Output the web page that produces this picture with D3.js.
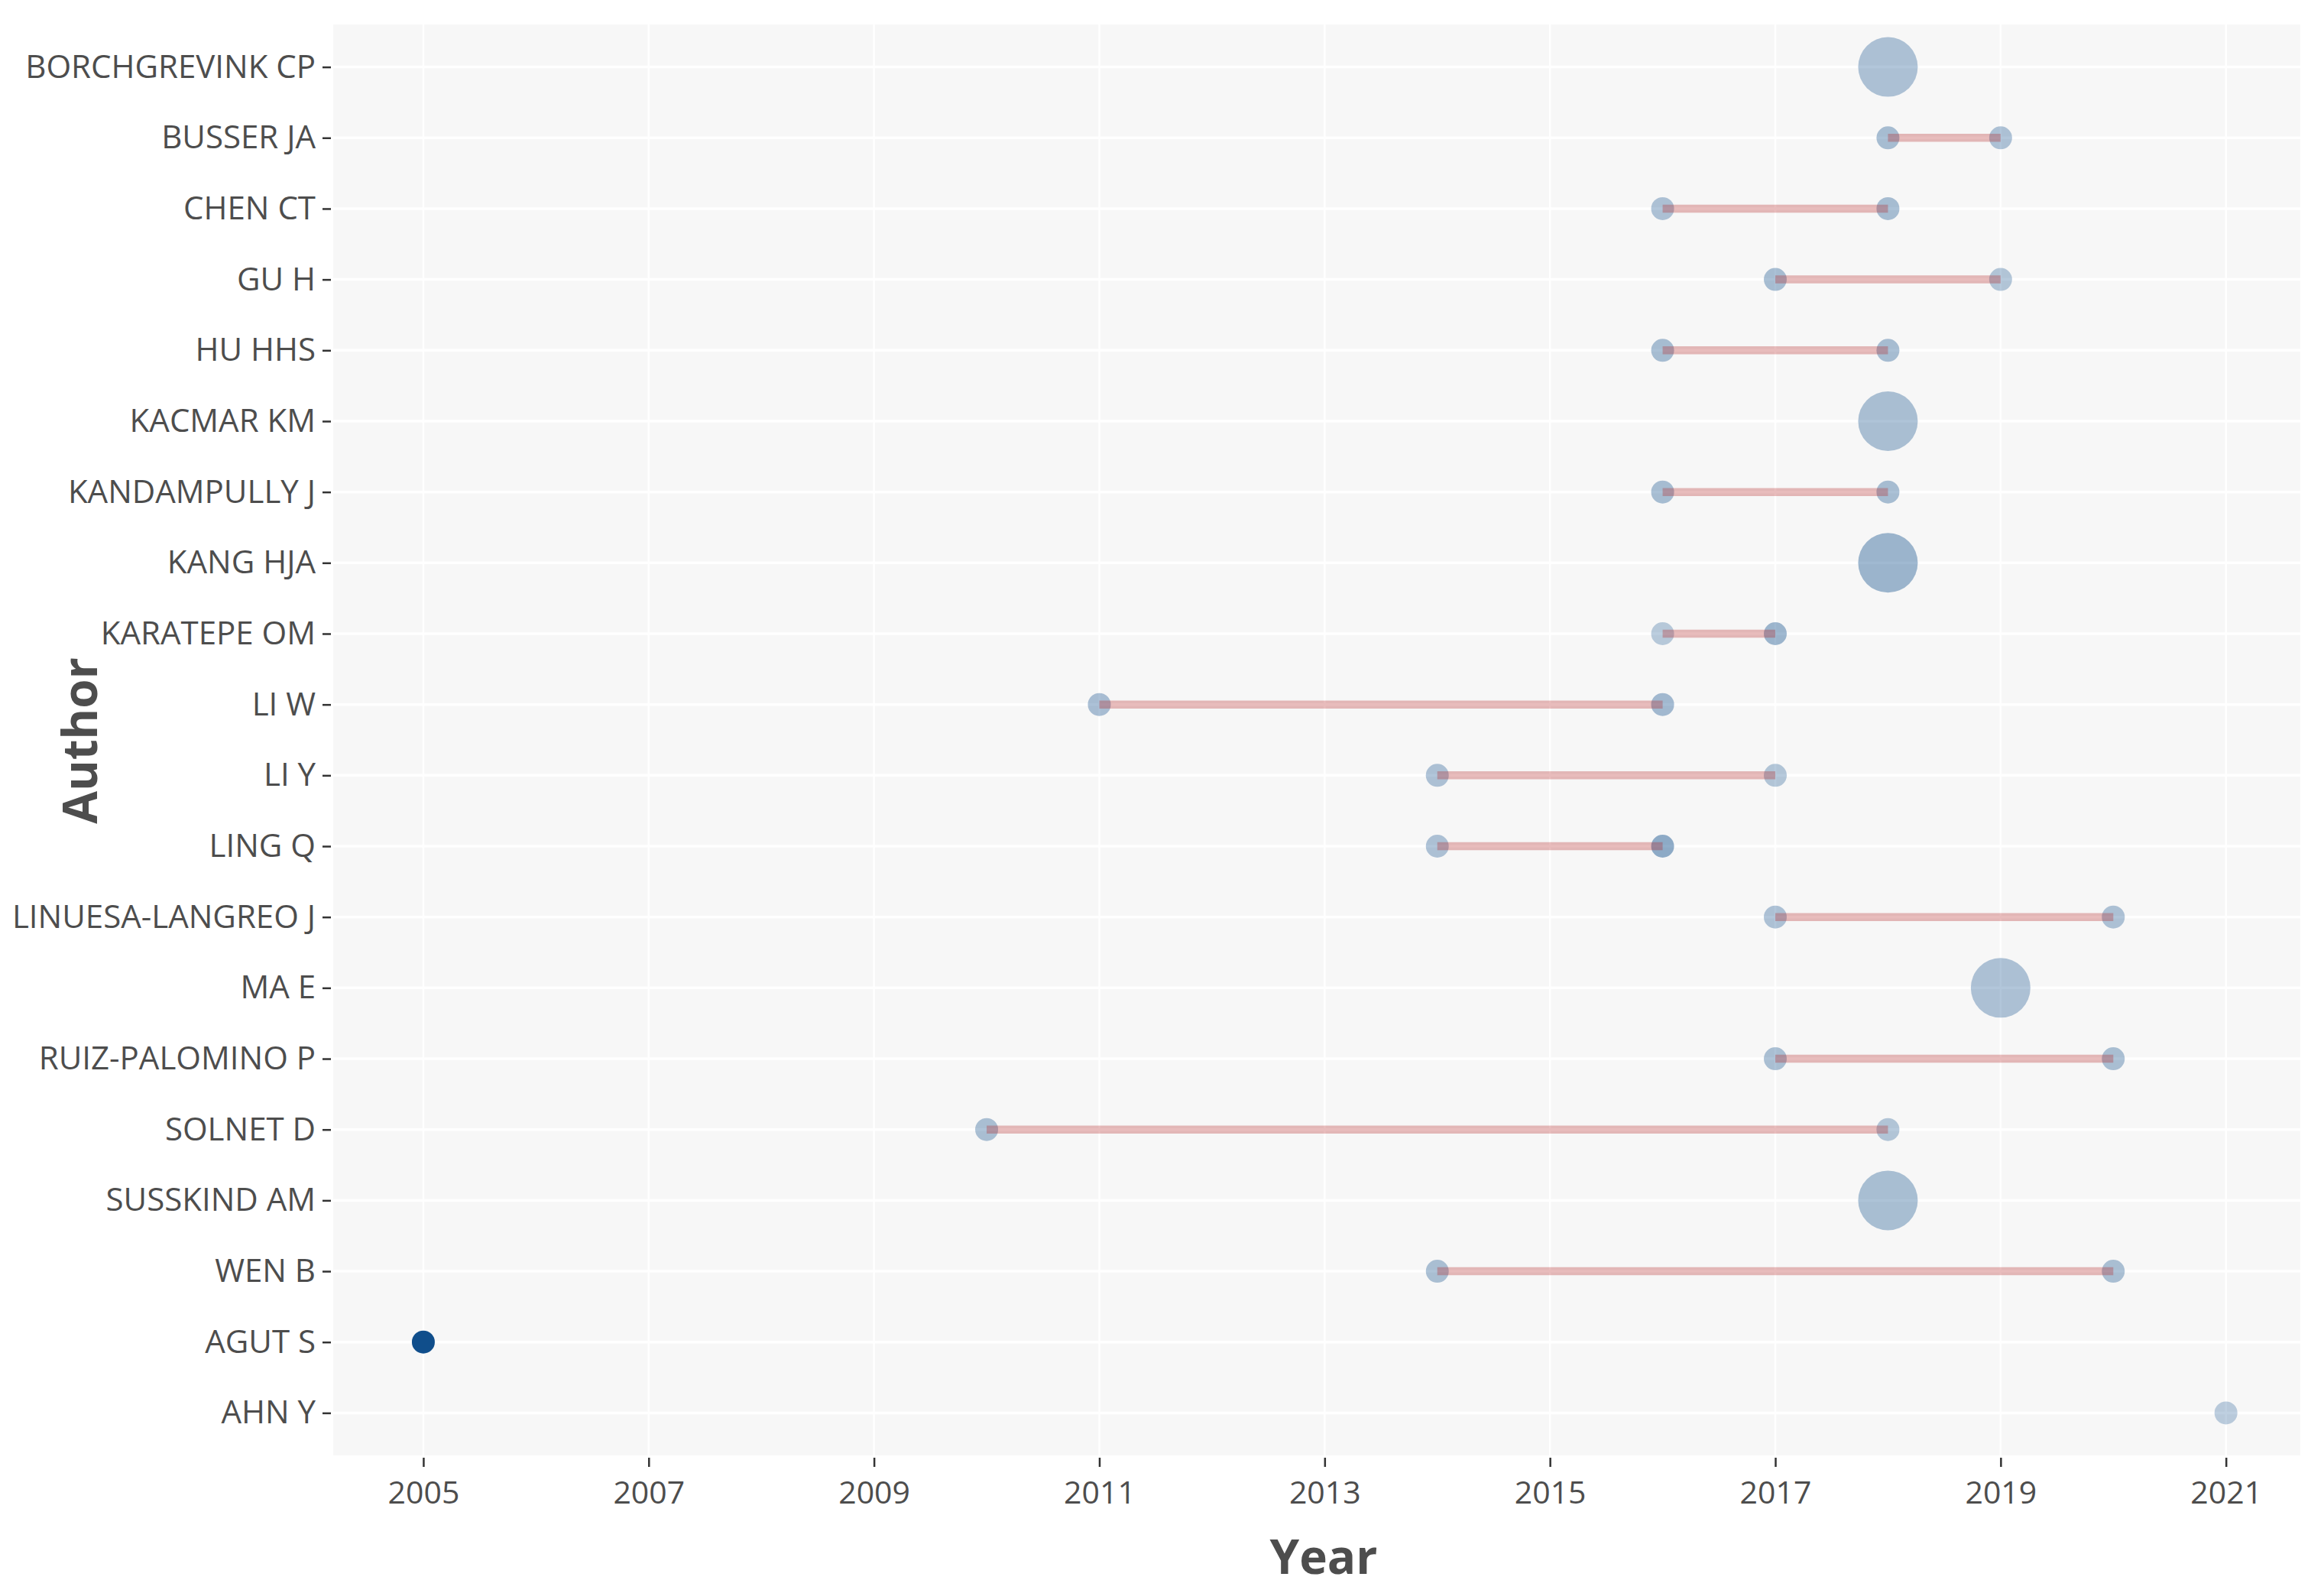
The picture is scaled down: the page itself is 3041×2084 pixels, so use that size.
<!DOCTYPE html>
<html>
<head>
<meta charset="utf-8">
<script src="https://cdn.jsdelivr.net/npm/d3@7"></script>
<style>
  html, body { margin: 0; padding: 0; background: #fff; }
  svg text { font-family: "Open Sans", "DejaVu Sans", Arial, sans-serif; }
</style>
</head>
<body>
<div class="chart"></div>
<script>
// authors, top to bottom
var authors = ["BORCHGREVINK CP", "BUSSER JA", "CHEN CT", "GU H", "HU HHS", "KACMAR KM",
  "KANDAMPULLY J", "KANG HJA", "KARATEPE OM", "LI W", "LI Y", "LING Q",
  "LINUESA-LANGREO J", "MA E", "RUIZ-PALOMINO P", "SOLNET D", "SUSSKIND AM",
  "WEN B", "AGUT S", "AHN Y"];

// publication years per author
var years = [[2018], [2018, 2019], [2016, 2018], [2017, 2019], [2016, 2018], [2018],
  [2016, 2018], [2018], [2016, 2017], [2011, 2016], [2014, 2017], [2014, 2016],
  [2017, 2020], [2019], [2017, 2020], [2010, 2018], [2018],
  [2014, 2020], [2005], [2021]];

// number of articles per author-year
var freq = [[2], [1, 1], [1, 1], [1, 1], [1, 1], [2],
  [1, 1], [2], [1, 1], [1, 1], [1, 1], [1, 1],
  [1, 1], [2], [1, 1], [1, 1], [2],
  [1, 1], [1], [1]];

// total citations per year (estimated)
var tcpy = [[1.1], [1.6, 1.1], [1.1, 1.6], [1.6, 0.75], [1.6, 1.6], [1.3],
  [1.6, 1.6], [2.3], [0.4, 2.3], [1.5, 1.9], [1.1, 0.75], [1.1, 3.3],
  [1.1, 1.1], [1.1], [1.3, 1.3], [1.3, 0.75], [1.4],
  [1.3, 1.3], [12], [0.25]];

var xTicks = [2005, 2007, 2009, 2011, 2013, 2015, 2017, 2019, 2021];

var W = 3041, H = 2084,
    panel = {left: 436, right: 3010, top: 32, bottom: 1904};

var svg = d3.select(".chart").append("svg")
    .attr("width", W)
    .attr("height", H);

var x = d3.scaleLinear().domain([2004.2, 2021.66]).range([panel.left, panel.right]);
var y = d3.scalePoint().domain(authors).range([panel.top, panel.bottom]).padding(0.6);

var allFreq = d3.merge(freq), allTc = d3.merge(tcpy);
var r = d3.scaleLinear().domain(d3.extent(allFreq)).range([15, 39]);
var alpha = d3.scaleLinear().domain(d3.extent(allTc)).range([0.27, 1]);

// flatten into points
var points = [];
authors.forEach(function(a, i) {
    years[i].forEach(function(yr, j) {
        points.push({author: a, year: yr, freq: freq[i][j], tc: tcpy[i][j]});
    });
});

// panel
svg.append("rect")
    .attr("x", panel.left).attr("y", panel.top)
    .attr("width", panel.right - panel.left)
    .attr("height", panel.bottom - panel.top)
    .attr("fill", "#f7f7f7");

var grid = svg.append("g");
grid.selectAll(".vgrid").data(xTicks).enter().append("line")
    .attr("x1", function(d) { return x(d); }).attr("x2", function(d) { return x(d); })
    .attr("y1", panel.top).attr("y2", panel.bottom)
    .attr("stroke", "#fff").attr("stroke-width", 2.5);
grid.selectAll(".hgrid").data(authors).enter().append("line")
    .attr("x1", panel.left).attr("x2", panel.right)
    .attr("y1", function(d) { return y(d); }).attr("y2", function(d) { return y(d); })
    .attr("stroke", "#fff").attr("stroke-width", 3.5);

// points
svg.append("g").selectAll("circle").data(points).enter().append("circle")
    .attr("cx", function(d) { return x(d.year); })
    .attr("cy", function(d) { return y(d.author); })
    .attr("r", function(d) { return r(d.freq); })
    .attr("fill", "#104E8B")
    .attr("fill-opacity", function(d) { return alpha(d.tc); });

// lines from first to last year, on top of the points
var spans = authors.map(function(a, i) {
    return {author: a, from: d3.min(years[i]), to: d3.max(years[i])};
}).filter(function(s) { return s.to > s.from; });

svg.append("g").selectAll("line").data(spans).enter().append("line")
    .attr("x1", function(d) { return x(d.from); })
    .attr("x2", function(d) { return x(d.to); })
    .attr("y1", function(d) { return y(d.author); })
    .attr("y2", function(d) { return y(d.author); })
    .attr("stroke", "#B22222")
    .attr("stroke-opacity", 0.3)
    .attr("stroke-width", 10.5);

// axes
var yAxis = svg.append("g")
    .attr("transform", "translate(" + (panel.left - 3) + ",0)")
    .call(d3.axisLeft(y).tickSize(11).tickPadding(9));
yAxis.select(".domain").remove();
yAxis.selectAll(".tick line").attr("stroke", "#333").attr("stroke-width", 2.5);
yAxis.selectAll(".tick text")
    .attr("fill", "#4d4d4d")
    .style("font-size", "42px");

var xAxis = svg.append("g")
    .attr("transform", "translate(0," + (panel.bottom + 3) + ")")
    .call(d3.axisBottom(x).tickValues(xTicks).tickFormat(d3.format("d")).tickSize(12).tickPadding(19));
xAxis.select(".domain").remove();
xAxis.selectAll(".tick line").attr("stroke", "#333").attr("stroke-width", 2.5);
xAxis.selectAll(".tick text")
    .attr("fill", "#4d4d4d")
    .style("font-size", "41px");

// axis titles
svg.append("text")
    .attr("x", 1732).attr("y", 2059)
    .attr("text-anchor", "middle")
    .attr("fill", "#4d4d4d")
    .style("font-size", "62px").style("font-weight", "bold")
    .text("Year");

svg.append("text")
    .attr("transform", "translate(127,969) rotate(-90)")
    .attr("text-anchor", "middle")
    .attr("fill", "#4d4d4d")
    .style("font-size", "62px").style("font-weight", "bold")
    .text("Author");
</script>
</body>
</html>
